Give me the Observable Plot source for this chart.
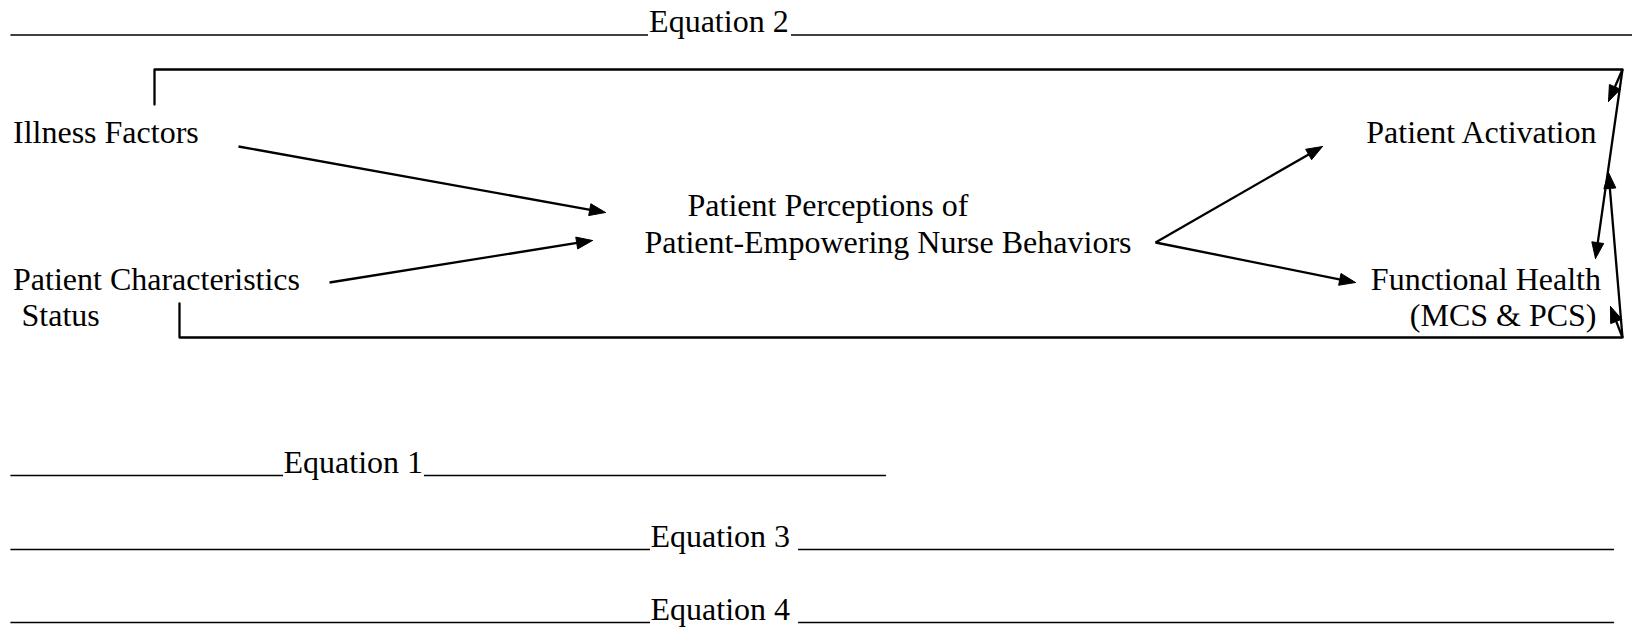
<!DOCTYPE html>
<html>
<head>
<meta charset="utf-8">
<script src="https://cdn.jsdelivr.net/npm/d3@7"></script>
<script src="https://cdn.jsdelivr.net/npm/@observablehq/plot@0.6"></script>
<style>
  html, body { margin: 0; padding: 0; background: #fff; }
  #chart { width: 1635px; height: 628px; }
</style>
</head>
<body>
<div id="chart"></div>
<script>
// ---- Diagram content ----
const nodeLabels = [
  "Illness Factors",
  "Patient Characteristics",
  "Status",
  "Patient Perceptions of",
  "Patient-Empowering Nurse Behaviors",
  "Patient Activation",
  "Functional Health",
  "(MCS & PCS)"
];
// layout of node labels: baseline position and anchor
const nodeX      = [12.5, 12.5, 21, 687, 644, 1596, 1600.5, 1596];
const nodeBase   = [142, 289, 325, 215, 252, 142, 289, 325];
const nodeAnchor = ["start", "start", "start", "start", "start", "end", "end", "end"];

const equationLabels = ["Equation 2", "Equation 1", "Equation 3", "Equation 4"];
const equationX      = [648.6, 283, 650, 650];
const equationBase   = [31.5, 472, 546, 619];
// underline segments for each equation row: [left start, left end, right start, right end]
const equationRules = [
  [10.4, 648, 791, 1632],
  [10.4, 283, 424, 886],
  [10.4, 650, 798, 1614],
  [10.4, 650, 798, 1614]
];

// path arrows: from -> to (tip)
const arrowFrom = [[238,146],[329,282],[1155,242],[1155,242],[1622,69],[1622,69],[1622,337],[1622,337]];
const arrowTo   = [[605,212],[592,240],[1322,146],[1355,282],[1608,101],[1595,258],[1608,172],[1610,306]];

// bracket polylines (Equation 2 paths)
const bracketTop    = [[154,104],[154,69],[1622,69]];
const bracketBottom = [[179,303],[179,337],[1622,337]];

// ---- build tables ----
const FS = 32;
const nodes = nodeLabels.map((t, i) => ({text: t, x: nodeX[i], y: nodeBase[i] - 0.32 * FS, anchor: nodeAnchor[i]}));
const eqs = equationLabels.map((t, i) => ({text: t, x: equationX[i], y: equationBase[i] - 0.32 * FS}));
const eqRules = [];
equationRules.forEach((r, i) => {
  const y = equationBase[i] + 3;
  eqRules.push({x1: r[0], x2: r[1], y});
  eqRules.push({x1: r[2], x2: r[3], y});
});

const HL = 16, HW = 6;
const shafts = [], heads = [];
arrowFrom.forEach((f, i) => {
  const t = arrowTo[i];
  const dx = t[0] - f[0], dy = t[1] - f[1];
  const len = Math.hypot(dx, dy);
  const ux = dx / len, uy = dy / len;
  const bx = t[0] - ux * HL, by = t[1] - uy * HL;
  const px = -uy, py = ux;
  shafts.push({x1: f[0], y1: f[1], x2: bx + ux * 2, y2: by + uy * 2});
  heads.push({id: i, x: t[0], y: t[1]});
  heads.push({id: i, x: bx + px * HW, y: by + py * HW});
  heads.push({id: i, x: bx - px * HW, y: by - py * HW});
  heads.push({id: i, x: t[0], y: t[1]});
});
const brackets = [
  ...bracketTop.map(([x, y]) => ({id: "top", x, y})),
  ...bracketBottom.map(([x, y]) => ({id: "bottom", x, y}))
];

const W = 1635, H = 628;
const chart = Plot.plot({
  width: W,
  height: H,
  margin: 0,
  x: {domain: [0, W], range: [0, W], axis: null},
  y: {domain: [0, H], range: [0, H], axis: null},
  style: {background: "#fff", fontFamily: "'Liberation Serif', 'Times New Roman', serif", color: "#000"},
  marks: [
    Plot.ruleY(eqRules, {x1: "x1", x2: "x2", y: "y", stroke: "#000", strokeWidth: 1.6}),
    Plot.line(brackets, {x: "x", y: "y", z: "id", stroke: "#000", strokeWidth: 2.3, curve: "linear"}),
    Plot.link(shafts, {x1: "x1", y1: "y1", x2: "x2", y2: "y2", stroke: "#000", strokeWidth: 2.3}),
    Plot.line(heads, {x: "x", y: "y", z: "id", fill: "#000", stroke: "#000", strokeWidth: 1, curve: "linear"}),
    Plot.text(eqs, {x: "x", y: "y", text: "text", textAnchor: "start", fontSize: FS, fill: "#000"}),
    Plot.text(nodes.filter(d => d.anchor === "start"), {x: "x", y: "y", text: "text", textAnchor: "start", fontSize: FS, fill: "#000"}),
    Plot.text(nodes.filter(d => d.anchor === "end"), {x: "x", y: "y", text: "text", textAnchor: "end", fontSize: FS, fill: "#000"})
  ]
});
document.getElementById("chart").appendChild(chart);
</script>
</body>
</html>
